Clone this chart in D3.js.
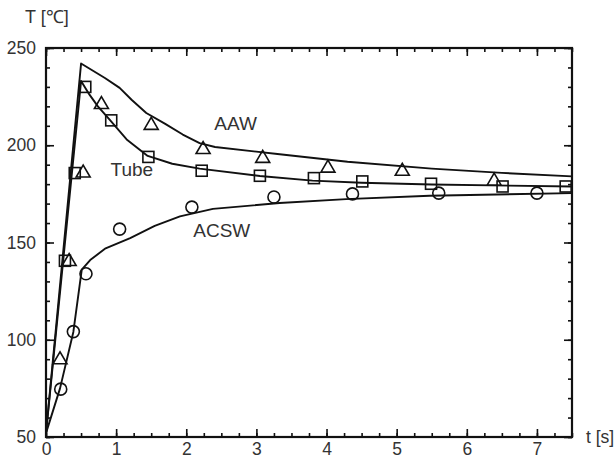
<!DOCTYPE html>
<html>
<head>
<meta charset="utf-8">
<script src="https://cdn.jsdelivr.net/npm/d3@7"></script>
<style>
    body { margin: 0; background: #fff; }
    svg { display: block; font-family: "Liberation Sans", Arial, Helvetica, sans-serif; }
    .tick text { fill: #333; }
</style>
</head>
<body>
<svg id="chart" width="615" height="459"></svg>
<script>
// measured points [t, T]
var aawPoints = [[0.2, 90.5], [0.33, 141], [0.53, 186.5], [0.79, 221.7], [1.5, 211], [2.24, 198.6],
		 [3.09, 194], [4.02, 189], [5.08, 187.4], [6.39, 182.3]];
var tubePoints = [[0.27, 140.6], [0.41, 185.7], [0.56, 230], [0.93, 212.8], [1.46, 194], [2.22, 186.9],
		  [3.05, 184.3], [3.82, 183.1], [4.51, 181.4], [5.49, 180.2], [6.51, 178.8], [7.41, 178.8]];
var acswPoints = [[0.21, 74.6], [0.39, 104.2], [0.57, 133.9], [1.05, 156.9], [2.08, 168.2],
		  [3.25, 173.4], [4.37, 175], [5.6, 175.4], [7.0, 175.4]];

// calculated curves [t, T]
var aawCurve = [[0, 52], [0.5, 242], [0.84, 234.6], [1.05, 229.5], [1.22, 223.4], [1.43, 216.6],
		[1.7, 211], [1.95, 205.5], [2.19, 201.1], [2.41, 199.1], [3.3, 195.5], [4.3, 191.5],
		[5.5, 188], [6.5, 185.8], [7.5, 184]];
var tubeCurve = [[0, 52], [0.5, 233], [0.62, 226], [0.74, 220], [0.91, 213], [1.15, 203],
		 [1.45, 194.5], [1.8, 190.5], [2.19, 188], [3.05, 184.2], [3.8, 181.8], [4.5, 180.7],
		 [5.5, 179.8], [7.5, 178.8]];
var acswCurve = [[0, 52], [0.2, 75], [0.39, 104], [0.51, 136], [0.63, 141], [0.85, 147],
		 [1.2, 152.3], [1.55, 158.5], [1.91, 163.4], [2.38, 167.3], [3.33, 170.3],
		 [4.28, 172.3], [5.47, 174], [7.5, 175.4]];

var xMajor = [0, 1, 2, 3, 4, 5, 6, 7];
var yMajor = [50, 100, 150, 200, 250];

var curveLabels = [
    {text: "AAW", t: 2.4, T: 208},
    {text: "Tube", t: 0.92, T: 184},
    {text: "ACSW", t: 2.1, T: 153}
];

(function() {
    var svg = d3.select("#chart");
    var mLeft = 46, mRight = 572, mTop = 48, mBottom = 437;

    var x = d3.scaleLinear().domain([0, 7.5]).range([mLeft, mRight]);
    var y = d3.scaleLinear().domain([50, 250]).range([mBottom, mTop]);

    var xMinor = d3.range(0, 7.51, 0.25);
    var yMinor = d3.range(50, 250.1, 10);

    // minor ticks, all four sides, pointing inward
    var minorAxes = [
	[d3.axisBottom(x).tickValues(xMinor), "translate(0," + mBottom + ")"],
	[d3.axisTop(x).tickValues(xMinor), "translate(0," + mTop + ")"],
	[d3.axisLeft(y).tickValues(yMinor), "translate(" + mLeft + ",0)"],
	[d3.axisRight(y).tickValues(yMinor), "translate(" + mRight + ",0)"]
    ];
    minorAxes.forEach(function(a) {
	svg.append("g").attr("transform", a[1])
	    .call(a[0].tickSize(-4).tickFormat(""))
	    .call(function(g) { g.select(".domain").remove(); })
	    .selectAll("line").attr("stroke", "#111").attr("stroke-width", 1.6);
    });

    // major ticks
    var majorAxes = [
	[d3.axisBottom(x).tickValues(xMajor).tickFormat(d3.format("d")).tickPadding(6), "translate(0," + mBottom + ")"],
	[d3.axisTop(x).tickValues(xMajor).tickFormat(""), "translate(0," + mTop + ")"],
	[d3.axisLeft(y).tickValues(yMajor).tickFormat(d3.format("d")).tickPadding(10), "translate(" + mLeft + ",0)"],
	[d3.axisRight(y).tickValues(yMajor).tickFormat(""), "translate(" + mRight + ",0)"]
    ];
    majorAxes.forEach(function(a) {
	var g = svg.append("g").attr("transform", a[1])
	    .call(a[0].tickSize(-8))
	    .call(function(g) { g.select(".domain").remove(); });
	g.selectAll("line").attr("stroke", "#111").attr("stroke-width", 1.6);
	g.selectAll("text").attr("font-size", 17.5).attr("font-family", null);
    });

    svg.append("rect")
	.attr("x", mLeft).attr("y", mTop)
	.attr("width", mRight - mLeft).attr("height", mBottom - mTop)
	.attr("fill", "none").attr("stroke", "#111").attr("stroke-width", 2.2);

    svg.append("text").attr("x", 25).attr("y", 23)
	.attr("font-size", 18).attr("fill", "#333").text("T [℃]");
    svg.append("text").attr("x", 586).attr("y", 443)
	.attr("font-size", 17.5).attr("fill", "#333").text("t [s]");

    // curves
    var line = d3.line()
	.x(function(d) { return x(d[0]); })
	.y(function(d) { return y(d[1]); });

    [aawCurve, tubeCurve, acswCurve].forEach(function(c) {
	svg.append("path").datum(c)
	    .attr("d", line)
	    .attr("fill", "none")
	    .attr("stroke", "#111")
	    .attr("stroke-width", 1.9)
	    .attr("stroke-linejoin", "round");
    });

    // markers
    var markerStyle = function(sel) {
	sel.attr("fill", "none").attr("stroke", "#111").attr("stroke-width", 1.6);
    };
    svg.append("g").selectAll("path").data(aawPoints).enter().append("path")
	.attr("d", function(d) {
	    var cx = x(d[0]), cy = y(d[1]);
	    return "M" + (cx - 7) + "," + (cy + 5.5) + "L" + (cx + 7) + "," + (cy + 5.5) + "L" + cx + "," + (cy - 6.5) + "Z";
	})
	.call(markerStyle);
    svg.append("g").selectAll("rect").data(tubePoints).enter().append("rect")
	.attr("x", function(d) { return x(d[0]) - 5.5; })
	.attr("y", function(d) { return y(d[1]) - 5.5; })
	.attr("width", 11).attr("height", 11)
	.call(markerStyle);
    svg.append("g").selectAll("circle").data(acswPoints).enter().append("circle")
	.attr("cx", function(d) { return x(d[0]); })
	.attr("cy", function(d) { return y(d[1]); })
	.attr("r", 6)
	.call(markerStyle);

    svg.append("g").selectAll("text").data(curveLabels).enter().append("text")
	.attr("x", function(d) { return x(d.t); })
	.attr("y", function(d) { return y(d.T); })
	.attr("font-size", 19)
	.attr("fill", "#333")
	.text(function(d) { return d.text; });
})();
</script>
</body>
</html>
